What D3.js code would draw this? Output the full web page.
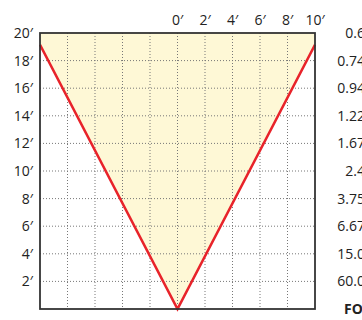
<!DOCTYPE html>
<html>
<head>
<meta charset="utf-8">
<script src="https://cdn.jsdelivr.net/npm/d3@7"></script>
<style>
	body { margin: 0; background: #fff; }
	svg { display: block; }
	text { font-family: "Open Sans", "Noto Sans", sans-serif; fill: #222; }
</style>
</head>
<body>
<div id="chart-area"></div>
<script>

// tick labels
let topTicks = [0, 2, 4, 6, 8, 10];
let heightTicks = [20, 18, 16, 14, 12, 10, 8, 6, 4, 2];
// values on the right, one per height row
let fovLabels = ["0.6", "0.74", "0.94", "1.22", "1.67", "2.4", "3.75", "6.67", "15.0", "60.0"];

// the red V
let lineX = [-10, 0, 10];
let lineY = [19.15, 0, 19.15];

let width = 362,
	height = 320;

let margin = {top: 33, right: 47, bottom: 11, left: 40};
let w = width - margin.left - margin.right,
	h = height - margin.top - margin.bottom;

let svg = d3.select("#chart-area").append("svg")
	.attr("width", width)
	.attr("height", height)

let g = svg.append("g")
	.attr("transform", "translate(" + margin.left + "," + margin.top + ")");

let x = d3.scaleLinear().domain([-10, 10]).range([0, w])
let y = d3.scaleLinear().domain([0, 20]).range([h, 0])

let pts = lineX.map((d, i) => [d, lineY[i]])

// yellow area above the V
let fillPts = [[-10, 20]].concat(pts).concat([[10, 20]])
g.append("path")
	.attr("d", d3.line().x(d => x(d[0])).y(d => y(d[1]))(fillPts) + "Z")
	.attr("fill", "#fef8d6")

// dotted grid
g.selectAll(".vgrid").data(d3.range(-8, 10, 2))
	.enter().append("line")
	.attr("class", "vgrid")
	.attr("x1", d => x(d)).attr("x2", d => x(d))
	.attr("y1", 0).attr("y2", h)
	.attr("stroke", "#777")
	.attr("stroke-width", 1)
	.attr("stroke-dasharray", "1,2")

g.selectAll(".hgrid").data(heightTicks.filter(d => d < 20))
	.enter().append("line")
	.attr("class", "hgrid")
	.attr("x1", 0).attr("x2", w)
	.attr("y1", d => y(d)).attr("y2", d => y(d))
	.attr("stroke", "#777")
	.attr("stroke-width", 1)
	.attr("stroke-dasharray", "1,2")

// red line
g.append("path")
	.attr("d", d3.line().x(d => x(d[0])).y(d => y(d[1]))(pts))
	.attr("fill", "none")
	.attr("stroke", "#e8232a")
	.attr("stroke-width", 2.6)
	.attr("stroke-linejoin", "miter")

// frame
g.append("rect")
	.attr("x", 0).attr("y", 0)
	.attr("width", w).attr("height", h)
	.attr("fill", "none")
	.attr("stroke", "#333")
	.attr("stroke-width", 1.8)

// left labels
g.selectAll(".ylab").data(heightTicks)
	.enter().append("text")
	.attr("class", "ylab")
	.attr("x", -7)
	.attr("y", d => y(d) + 5)
	.attr("text-anchor", "end")
	.style("font-size", "14px")
	.text(d => d + "\u2032")

// top labels
g.selectAll(".xlab").data(topTicks)
	.enter().append("text")
	.attr("class", "xlab")
	.attr("x", d => x(d))
	.attr("y", -8)
	.attr("text-anchor", "middle")
	.style("font-size", "14px")
	.text(d => d + "\u2032")

// right labels
g.selectAll(".fov").data(fovLabels)
	.enter().append("text")
	.attr("class", "fov")
	.attr("x", w + 50)
	.attr("y", (d, i) => y(heightTicks[i]) + 5)
	.attr("text-anchor", "end")
	.style("font-size", "14px")
	.text(d => d)

g.append("text")
	.attr("x", w + 29)
	.attr("y", h + 5)
	.style("font-size", "14px")
	.style("font-weight", "bold")
	.text("FOV")

</script>
</body>
</html>
